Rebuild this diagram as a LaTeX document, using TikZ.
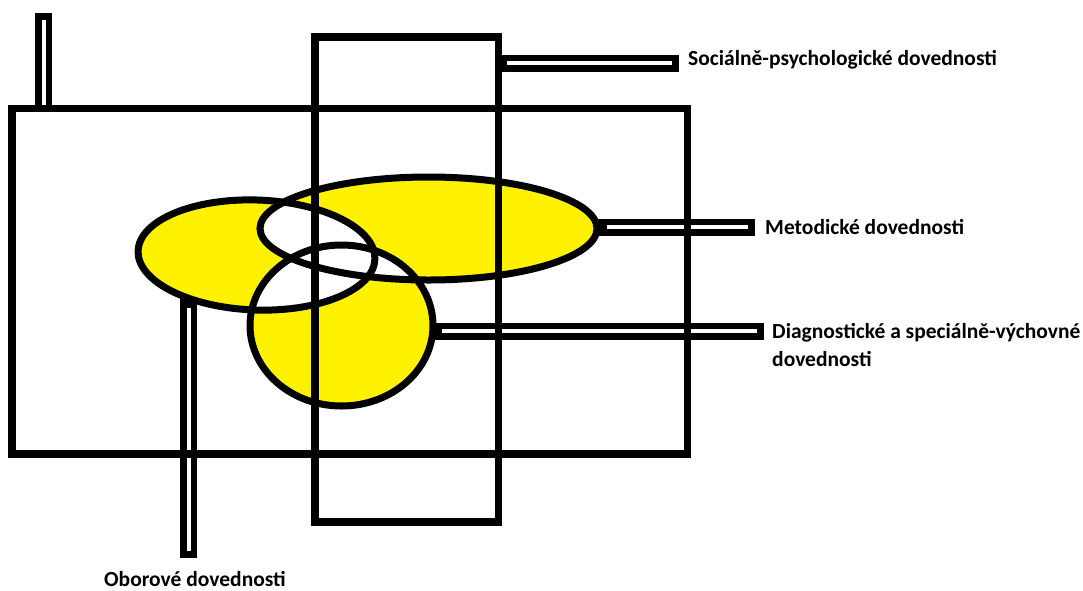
\documentclass[tikz,border=0pt]{standalone}
\usepackage{fontspec}
\setmainfont{Carlito}
\definecolor{paintyellow}{RGB}{255,242,0}
\begin{document}
\begin{tikzpicture}[x=1pt,y=-1pt,
  outline/.style={draw=black, line width=7pt},
  frame/.style={draw=black, line width=7.5pt},
  linkbar/.style={draw=black, line width=17pt,
    postaction={draw=white, line width=4pt, shorten <=#1, shorten >=7pt}},
  linkbar/.default=8pt,
  lbl/.style={inner sep=0pt, anchor=base west, text=black,
    font=\fontsize{21.5}{26}\selectfont\bfseries},
  % the three skill areas
  oborshape/.style={rotate around={-2:(256.5,255)},
    insert path={(256.5,255) ellipse [x radius=118.5, y radius=55]}},
  metshape/.style={insert path={(428.5,228.5) ellipse [x radius=168.5, y radius=51.5]}},
  diagshape/.style={insert path={(341.5,325.5) ellipse [x radius=91.5, y radius=80.5]}}
]
\useasboundingbox (0,0) rectangle (1083,590);

% yellow areas, overlaps left white
\fill[paintyellow, oborshape];
\fill[paintyellow, metshape];
\fill[paintyellow, diagshape];
\begin{scope}
  \clip[oborshape];
  \fill[white, metshape];
  \fill[white, diagshape];
\end{scope}
\begin{scope}
  \clip[metshape];
  \fill[white, diagshape];
\end{scope}

% attachment points and free ends of the bars
\coordinate (tlFoot) at (43.5,108.5);
\coordinate (tlEnd)  at (43.5,13);
\coordinate (socFoot) at (498.5,63);
\coordinate (socEnd)  at (679,63);
\coordinate (metFoot) at (597,227);
\coordinate (metEnd)  at (755,227);
\coordinate (diaFoot) at (433,331);
\coordinate (diaEnd)  at (764,331);
\coordinate (oboFoot) at (188.5,299);
\coordinate (oboEnd)  at (188.5,558);

% labels
\node[lbl] (socLbl) at (688,65) {Sociálně-psychologické dovednosti};
\node[lbl] (metLbl) at (765,234) {Metodické dovednosti};
\node[lbl] (diaLbl) at (772,338) {Diagnostické a speciálně-výchovné};
\node[lbl] (diaLblB) at (772,366) {dovednosti};
\node[lbl] (oboLbl) at (104,586) {Oborové dovednosti};

% bars
\draw[linkbar=4pt] (tlFoot) -- (tlEnd);
\draw[linkbar=8pt] (socFoot) -- (socEnd);
\draw[linkbar=10pt] (metFoot) -- (metEnd);
\draw[linkbar=9pt] (diaFoot) -- (diaEnd);
\draw[linkbar=9pt] (oboFoot) -- (oboEnd);

% outlines of the areas
\draw[outline, oborshape];
\draw[outline, metshape];
\draw[outline, diagshape];

% the two frames
\draw[frame] (12,108.5) rectangle (687.5,454);
\draw[frame] (315,37) rectangle (498.5,522);
\end{tikzpicture}
\end{document}
